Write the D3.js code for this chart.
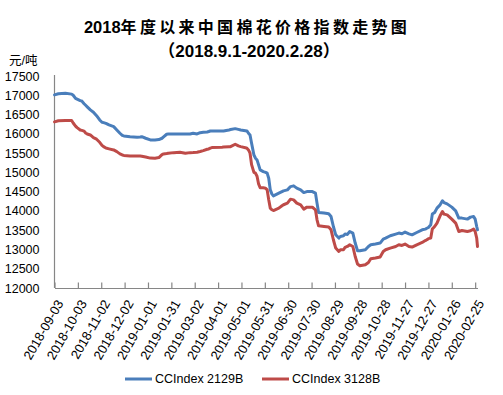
<!DOCTYPE html>
<html>
<head>
<meta charset="utf-8">
<script src="https://cdn.jsdelivr.net/npm/d3@7"></script>
<style>
  html, body { margin: 0; padding: 0; background: #fff; }
  svg { display: block; }
</style>
</head>
<body>
<svg id="chart" width="503" height="395"></svg>
<script>
const dates = [
  "2018-09-03","2018-09-08","2018-09-17","2018-09-25","2018-09-27","2018-09-30",
  "2018-10-02","2018-10-06","2018-10-08","2018-10-11","2018-10-13","2018-10-15",
  "2018-10-19","2018-10-23","2018-10-27","2018-10-31","2018-11-03","2018-11-05",
  "2018-11-08","2018-11-12","2018-11-18","2018-11-22","2018-11-26","2018-11-29",
  "2018-12-01","2018-12-09","2018-12-18","2018-12-22","2018-12-24","2018-12-29",
  "2019-01-04","2019-01-10","2019-01-15","2019-01-19","2019-01-21","2019-01-25",
  "2019-01-27","2019-02-03","2019-02-11","2019-02-18","2019-02-24","2019-02-28",
  "2019-03-05","2019-03-09","2019-03-13","2019-03-18","2019-03-20","2019-03-22",
  "2019-03-24","2019-04-06","2019-04-08","2019-04-15","2019-04-17","2019-04-23",
  "2019-04-27","2019-04-30","2019-05-06","2019-05-08","2019-05-10","2019-05-12",
  "2019-05-14","2019-05-17","2019-05-19","2019-05-21","2019-05-23","2019-05-25",
  "2019-05-29","2019-06-01","2019-06-03","2019-06-05","2019-06-07","2019-06-09",
  "2019-06-11","2019-06-18","2019-06-22","2019-06-24","2019-06-29","2019-07-03",
  "2019-07-07","2019-07-11","2019-07-16","2019-07-20","2019-07-24","2019-07-31",
  "2019-08-04","2019-08-06","2019-08-08","2019-08-15","2019-08-21","2019-08-24",
  "2019-08-27","2019-08-30","2019-09-03","2019-09-05","2019-09-09","2019-09-11",
  "2019-09-14","2019-09-17","2019-09-21","2019-09-24","2019-09-27","2019-09-30",
  "2019-10-07","2019-10-11","2019-10-14","2019-10-20","2019-10-26","2019-10-30",
  "2019-11-02","2019-11-08","2019-11-15","2019-11-19","2019-11-23","2019-11-27",
  "2019-12-02","2019-12-06","2019-12-12","2019-12-19","2019-12-23","2019-12-25",
  "2019-12-27","2019-12-30","2020-01-01","2020-01-04","2020-01-07","2020-01-11",
  "2020-01-14","2020-01-16","2020-01-20","2020-01-26","2020-01-31","2020-02-04",
  "2020-02-08","2020-02-15","2020-02-19","2020-02-23","2020-02-25","2020-02-27",
  "2020-02-28"
];

const cc2129B = [
  17010,17040,17050,17030,17000,16920,
  16900,16860,16850,16780,16740,16700,
  16620,16560,16470,16360,16300,16290,
  16270,16230,16186,16100,16015,15960,
  15945,15926,15911,15920,15926,15885,
  15841,15841,15850,15885,15920,15989,
  15996,15996,15996,15996,15996,16015,
  15996,16030,16040,16048,16060,16074,
  16074,16074,16074,16100,16110,16134,
  16115,16100,16082,16074,16015,15970,
  15756,15450,15367,15323,15193,15064,
  15020,15000,14979,14849,14546,14442,
  14391,14461,14500,14520,14546,14631,
  14650,14590,14546,14476,14502,14502,
  14461,14202,13958,13943,13924,13854,
  13595,13380,13295,13337,13355,13399,
  13390,13466,13425,13166,12966,12966,
  12992,13077,13121,13140,13166,13269,
  13295,13355,13399,13425,13406,13450,
  13406,13380,13440,13510,13528,13550,
  13570,13640,13917,13958,14072,14157,
  14261,14217,14183,14098,14002,13813,
  13813,13787,13839,13854,13787,13595,
  13510
];

const cc3128B = [
  16310,16340,16345,16345,16280,16200,
  16160,16100,16090,16070,16020,15996,
  15970,15900,15860,15780,15700,15667,
  15630,15610,15582,15538,15480,15452,
  15440,15426,15426,15426,15420,15400,
  15370,15367,15383,15460,15478,15490,
  15497,15512,15522,15497,15512,15515,
  15522,15540,15564,15600,15608,15630,
  15642,15652,15655,15665,15667,15730,
  15686,15667,15640,15626,15582,15497,
  15200,15000,14979,14900,14700,14600,
  14600,14590,14546,14287,14072,14030,
  14010,14072,14132,14160,14202,14305,
  14287,14202,14157,14046,14098,14098,
  14028,13769,13614,13595,13580,13510,
  13251,13036,12948,12992,12992,13052,
  13077,13121,13077,12818,12622,12578,
  12603,12663,12759,12777,12803,12948,
  12992,13036,13077,13121,13103,13140,
  13077,13062,13121,13181,13230,13251,
  13280,13295,13528,13595,13684,13873,
  13984,13917,13898,13787,13684,13466,
  13492,13466,13484,13528,13466,13295,
  13077
];

const seriesNames = ["CCIndex 2129B", "CCIndex 3128B"];
const xTickLabels = [
  "2018-09-03","2018-10-03","2018-11-02","2018-12-02","2019-01-01","2019-01-31",
  "2019-03-02","2019-04-01","2019-05-01","2019-05-31","2019-06-30","2019-07-30",
  "2019-08-29","2019-09-28","2019-10-28","2019-11-27","2019-12-27","2020-01-26",
  "2020-02-25"
];
const yTickLabels = [12000,12500,13000,13500,14000,14500,15000,15500,16000,16500,17000,17500];

const parse = d3.timeParse("%Y-%m-%d");
const svg = d3.select("#chart");
const latin = "'Liberation Sans', Arial, sans-serif";
const cjk = "'Liberation Sans', 'Noto Sans CJK SC', sans-serif";

const x = d3.scaleTime()
  .domain([parse("2018-09-03"), parse("2020-02-28")])
  .range([54.5, 477.5]);
const y = d3.scaleLinear().domain([12000, 17500]).range([288, 76]);

// Title
const t1 = svg.append("text").attr("x", 247).attr("y", 33)
  .attr("text-anchor", "middle").attr("font-weight", "bold").attr("fill", "#000");
t1.append("tspan").attr("font-family", latin).attr("font-size", 16.5).text("2018");
t1.append("tspan").attr("font-family", cjk).attr("font-size", 16)
  .attr("letter-spacing", 3.3).text("年度以来中国棉花价格指数走势图");

svg.append("text").attr("x", 249).attr("y", 57)
  .attr("text-anchor", "middle").attr("font-weight", "bold")
  .attr("font-family", cjk).attr("font-size", 17)
  .text("（2018.9.1-2020.2.28）");

svg.append("text").attr("x", 9).attr("y", 65)
  .attr("font-family", cjk).attr("font-size", 12.5).text("元/吨");

// Y axis
const yAxis = svg.append("g").attr("transform", "translate(54.5,0)")
  .call(d3.axisLeft(y).tickValues(yTickLabels).tickSize(0).tickPadding(15).tickFormat(d3.format("d")));
yAxis.select(".domain").attr("stroke", "#868686").attr("stroke-width", 1.2)
  .attr("d", `M0,${y(17500) - 1}V${y(12000)}`);
yAxis.selectAll("text").attr("font-family", latin).attr("font-size", 12.5).attr("fill", "#000");

// X axis
const xAxis = svg.append("g").attr("transform", `translate(0,${y(12000)})`)
  .call(d3.axisBottom(x).tickValues(xTickLabels.map(parse)).tickSizeInner(-5.5).tickSizeOuter(0)
    .tickFormat(d3.timeFormat("%Y-%m-%d")));
xAxis.select(".domain").attr("stroke", "#868686").attr("stroke-width", 1.2);
xAxis.selectAll(".tick line").attr("stroke", "#868686").attr("stroke-width", 1.2);
xAxis.selectAll("text")
  .attr("font-family", latin).attr("font-size", 13).attr("fill", "#000")
  .attr("text-anchor", "end")
  .attr("transform", "translate(5,13) rotate(-60)")
  .attr("x", 0).attr("y", 0).attr("dy", "0.35em");

// Lines
const colors = ["#4A7EBB", "#BE4B48"];
const series = [cc2129B, cc3128B];
const line = d3.line().x(d => x(d[0])).y(d => y(d[1]));
series.forEach((vals, i) => {
  const pts = dates.map((d, j) => [parse(d), vals[j]]);
  svg.append("path").datum(pts)
    .attr("fill", "none").attr("stroke", colors[i]).attr("stroke-width", 3)
    .attr("stroke-linejoin", "round").attr("stroke-linecap", "round")
    .attr("d", line);
});

// Legend
const legendX = [125, 262];
seriesNames.forEach((name, i) => {
  const g = svg.append("g").attr("transform", `translate(${legendX[i]},379)`);
  g.append("line").attr("x1", 0).attr("x2", 27).attr("y1", 0).attr("y2", 0)
    .attr("stroke", colors[i]).attr("stroke-width", 3);
  g.append("text").attr("x", 30).attr("y", 0).attr("dy", "0.35em")
    .attr("font-family", latin).attr("font-size", 12.5).attr("fill", "#000").text(name);
});
</script>
</body>
</html>
